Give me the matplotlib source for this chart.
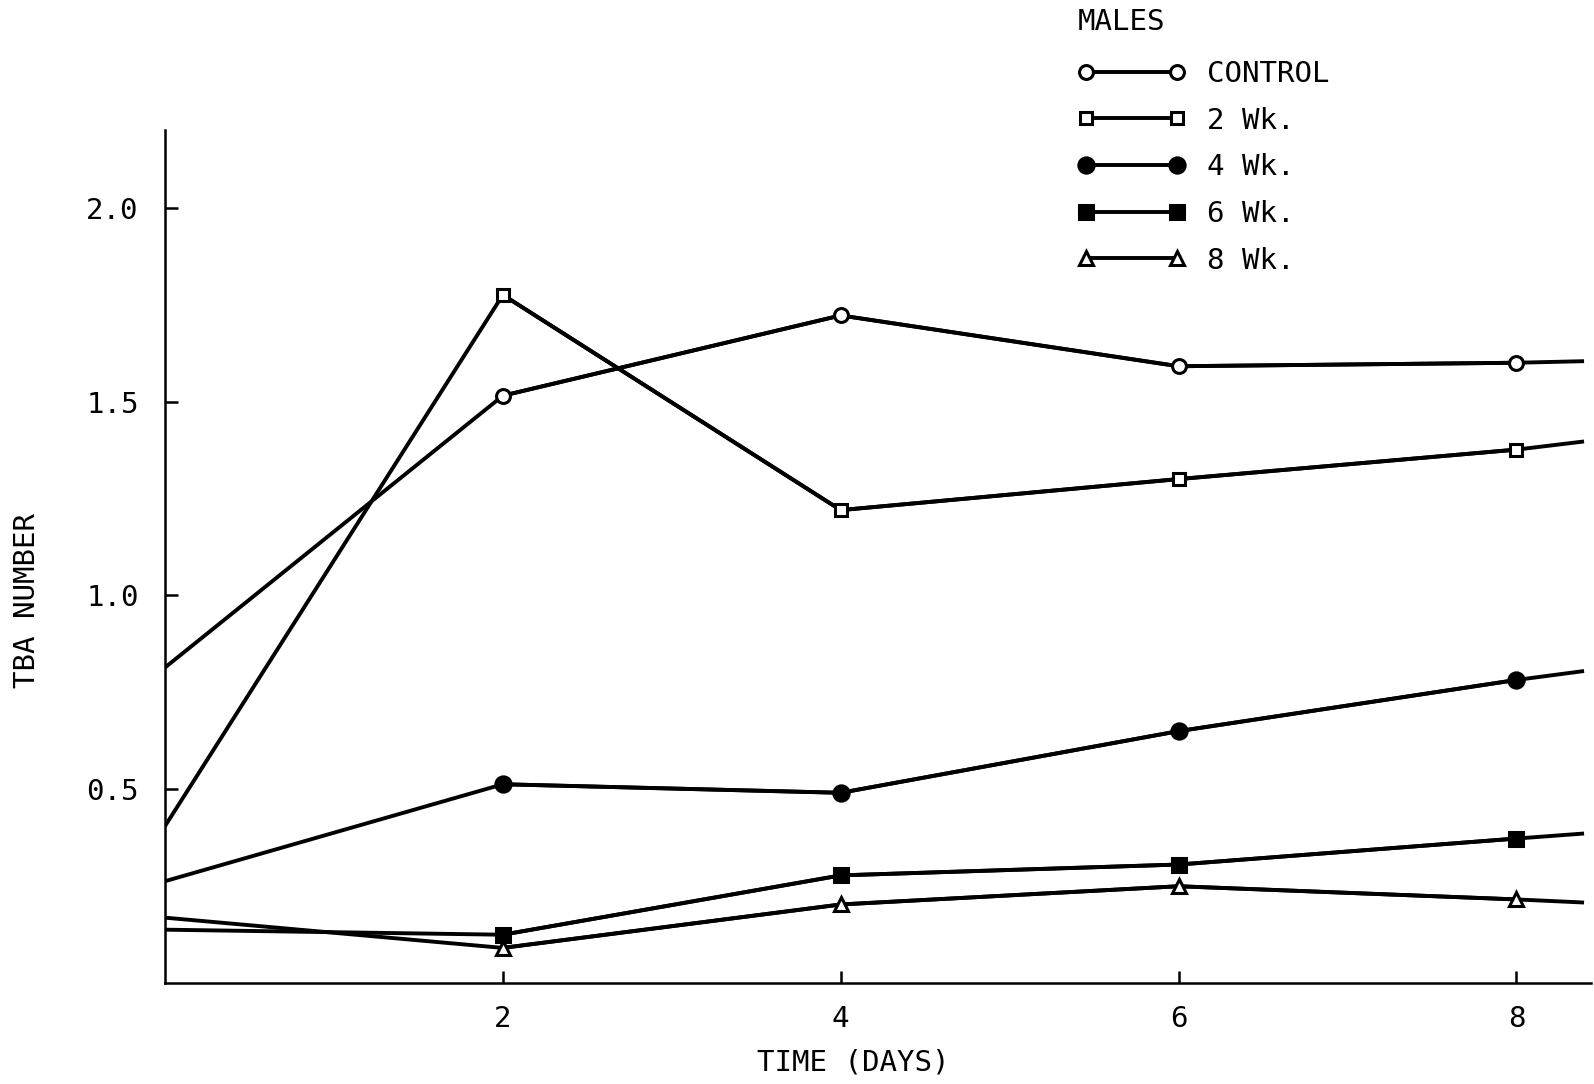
import matplotlib
matplotlib.use("Agg")
import matplotlib.pyplot as plt

plt.rcParams['font.family'] = ['DejaVu Sans Mono']

# Sampling days with markers, plus where each line meets the axes
days = [2, 4, 6, 8]
x_start = 0.0
x_end = 8.4

series_names = ["CONTROL", "2 Wk.", "4 Wk.", "6 Wk.", "8 Wk."]
control = [1.515, 1.722, 1.591, 1.600]
wk2 = [1.775, 1.220, 1.300, 1.376]
wk4 = [0.513, 0.491, 0.650, 0.782]
wk6 = [0.125, 0.278, 0.306, 0.373]
wk8 = [0.091, 0.203, 0.250, 0.216]
start_vals = [0.814, 0.405, 0.263, 0.138, 0.169]
end_vals = [1.604, 1.397, 0.805, 0.386, 0.208]

yticks = [0.5, 1.0, 1.5, 2.0]
ytick_labels = ["0.5", "1.0", "1.5", "2.0"]

markers = ['o', 's', 'o', 's', '^']
fills = ['white', 'white', 'black', 'black', 'white']
msizes = [10, 9, 11, 10, 10]

fs = 21

fig = plt.figure(figsize=(15.94, 10.84), dpi=100)
ax = fig.add_axes([0.1035, 0.093, 0.8945, 0.787])

all_vals = [control, wk2, wk4, wk6, wk8]
for i, vals in enumerate(all_vals):
    xs = [x_start] + days + [x_end]
    ys = [start_vals[i]] + vals + [end_vals[i]]
    ax.plot(xs, ys, color='black', lw=2.8, solid_capstyle='butt', zorder=2)
    ax.plot(days, vals, color='black', lw=2.8, marker=markers[i],
            markersize=msizes[i], markerfacecolor=fills[i],
            markeredgecolor='black', markeredgewidth=2.2, label=series_names[i], zorder=3)

ax.set_xlim(0, 8.44)
ax.set_ylim(0, 2.2)
ax.spines['top'].set_visible(False)
ax.spines['right'].set_visible(False)
ax.spines['left'].set_linewidth(1.8)
ax.spines['bottom'].set_linewidth(1.8)

ax.set_xticks(days)
ax.set_xticklabels([str(d) for d in days])
ax.set_yticks(yticks)
ax.set_yticklabels(ytick_labels)
ax.tick_params(axis='both', direction='in', length=9, width=1.8, labelsize=fs)
ax.tick_params(axis='y', pad=19)
ax.tick_params(axis='x', pad=16)

ax.set_xlabel("TIME (DAYS)", fontsize=fs)
ax.xaxis.set_label_coords(0.483, -0.077)
ax.set_ylabel("TBA NUMBER", fontsize=fs)
ax.yaxis.set_label_coords(-0.087, 0.449)

fig.text(1078 / 1594, 1 - 22.4 / 1084, "MALES", fontsize=fs, ha='left', va='center')
leg = ax.legend(loc='upper left', bbox_to_anchor=(1077 / 1594, 1 - 60 / 1084),
                bbox_transform=fig.transFigure, frameon=False, numpoints=2,
                fontsize=fs, handlelength=3.74, handletextpad=0.72,
                labelspacing=0.64, borderpad=0, borderaxespad=0)

fig.savefig("out.png", dpi=100)
